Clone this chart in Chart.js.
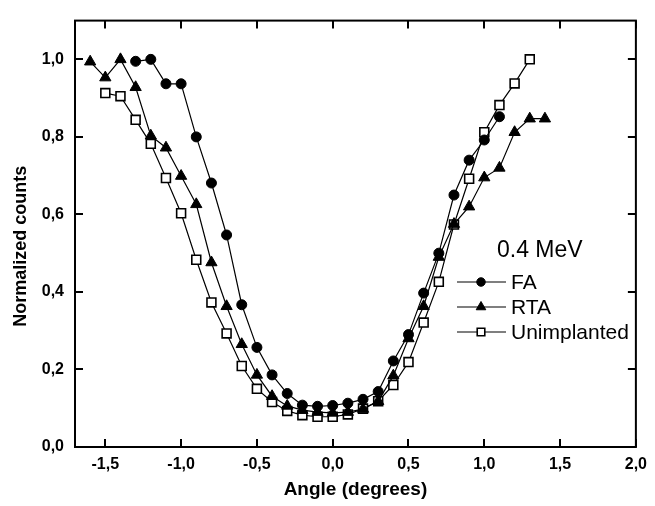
<!DOCTYPE html>
<html>
<head>
<meta charset="utf-8">
<script src="https://cdn.jsdelivr.net/npm/chart.js@4"></script>
<style>
  html, body { margin: 0; padding: 0; background: #fff; }
  #wrap { width: 655px; height: 506px; }
</style>
</head>
<body>
<div id="wrap"><canvas id="chart"></canvas></div>
<script>
// data
const faAngles = [-1.3, -1.2, -1.1, -1.0, -0.9, -0.8, -0.7, -0.6, -0.5, -0.4, -0.3, -0.2, -0.1,
  0.0, 0.1, 0.2, 0.3, 0.4, 0.5, 0.6, 0.7, 0.8, 0.9, 1.0, 1.1];
const faCounts = [0.995, 1.0, 0.937, 0.937, 0.80, 0.681, 0.547, 0.367, 0.257, 0.186, 0.138, 0.108, 0.105,
  0.107, 0.113, 0.123, 0.143, 0.222, 0.29, 0.397, 0.50, 0.65, 0.74, 0.792, 0.852];

const rtaAngles = [-1.6, -1.5, -1.4, -1.3, -1.2, -1.1, -1.0, -0.9, -0.8, -0.7, -0.6, -0.5, -0.4, -0.3, -0.2, -0.1,
  0.0, 0.1, 0.2, 0.3, 0.4, 0.5, 0.6, 0.7, 0.8, 0.9, 1.0, 1.1, 1.2, 1.3, 1.4];
const rtaCounts = [0.994, 0.953, 1.0, 0.928, 0.803, 0.772, 0.699, 0.626, 0.476, 0.363, 0.265, 0.186, 0.131, 0.106, 0.095, 0.09,
  0.088, 0.09, 0.098, 0.118, 0.184, 0.28, 0.363, 0.49, 0.575, 0.62, 0.695, 0.72, 0.812, 0.847, 0.847];

const unAngles = [-1.5, -1.4, -1.3, -1.2, -1.1, -1.0, -0.9, -0.8, -0.7, -0.6, -0.5, -0.4, -0.3, -0.2, -0.1,
  0.0, 0.1, 0.2, 0.3, 0.4, 0.5, 0.6, 0.7, 0.8, 0.9, 1.0, 1.1, 1.2, 1.3];
const unCounts = [0.913, 0.905, 0.844, 0.782, 0.694, 0.603, 0.483, 0.373, 0.293, 0.209, 0.150, 0.116, 0.093, 0.082, 0.078,
  0.078, 0.084, 0.099, 0.118, 0.16, 0.219, 0.321, 0.426, 0.574, 0.692, 0.812, 0.882, 0.938, 1.0];

const xTicks = [-1.5, -1.0, -0.5, 0.0, 0.5, 1.0, 1.5, 2.0];
const yTicks = [0.0, 0.2, 0.4, 0.6, 0.8, 1.0];
const legendTitle = "0.4 MeV";

const FONT = "'Liberation Sans', Arial, sans-serif";
const comma = v => v.toFixed(1).replace(".", ",");
const pairs = (xs, ys) => xs.map((x, i) => ({x: x, y: ys[i]}));

// frame + inward ticks on all four sides
const framePlugin = {
  id: "frame",
  afterDraw(chart) {
    const ctx = chart.ctx, a = chart.chartArea;
    const xs = chart.scales.x, ys = chart.scales.y;
    ctx.save();
    ctx.strokeStyle = "#000";
    ctx.lineWidth = 2;
    ctx.strokeRect(a.left, a.top, a.right - a.left, a.bottom - a.top);
    ctx.beginPath();
    xTicks.forEach(v => {
      const px = Math.round(xs.getPixelForValue(v));
      ctx.moveTo(px, a.bottom); ctx.lineTo(px, a.bottom - 8);
      ctx.moveTo(px, a.top); ctx.lineTo(px, a.top + 8);
    });
    yTicks.forEach(v => {
      const py = Math.round(ys.getPixelForValue(v));
      ctx.moveTo(a.left, py); ctx.lineTo(a.left + 8, py);
      ctx.moveTo(a.right, py); ctx.lineTo(a.right - 8, py);
    });
    ctx.stroke();
    ctx.restore();
  }
};

// legend inside the plot, with the energy as heading
const legendPlugin = {
  id: "innerLegend",
  afterDraw(chart) {
    const ctx = chart.ctx;
    ctx.save();
    ctx.fillStyle = "#000";
    ctx.font = "23px " + FONT;
    ctx.textBaseline = "middle";
    ctx.textAlign = "left";
    ctx.fillText(legendTitle, 497, 251);
    ctx.font = "21px " + FONT;
    chart.data.datasets.forEach((ds, i) => {
      const y = 282 + i * 25;
      ctx.strokeStyle = "#000";
      ctx.lineWidth = 1.2;
      ctx.beginPath();
      ctx.moveTo(457, y); ctx.lineTo(506, y);
      ctx.stroke();
      ctx.fillStyle = ds.pointBackgroundColor;
      ctx.lineWidth = ds.pointBorderWidth;
      Chart.helpers.drawPoint(ctx, {
        pointStyle: ds.pointStyle,
        radius: ds.pointRadius * 0.85,
        borderWidth: ds.pointBorderWidth,
        rotation: 0
      }, 481, y);
      ctx.fillStyle = "#000";
      ctx.fillText(ds.label, 511, y + 1);
    });
    ctx.restore();
  }
};

function series(label, data, style, radius, fill) {
  return {
    label: label,
    data: data,
    borderColor: "#000",
    borderWidth: 1.2,
    pointStyle: style,
    pointRadius: radius,
    pointHoverRadius: radius,
    pointBackgroundColor: fill,
    pointBorderColor: "#000",
    pointBorderWidth: style === "rect" ? 1.6 : 1,
    tension: 0,
    fill: false
  };
}

new Chart(document.getElementById("chart"), {
  type: "line",
  data: {
    datasets: [
      series("FA", pairs(faAngles, faCounts), "circle", 5, "#000"),
      series("RTA", pairs(rtaAngles, rtaCounts), "triangle", 6.5, "#000"),
      series("Unimplanted", pairs(unAngles, unCounts), "rect", 6.3, "#fff")
    ]
  },
  options: {
    responsive: true,
    maintainAspectRatio: false,
    animation: false,
    layout: { padding: { top: 12, right: 14, left: 0, bottom: 0 } },
    plugins: { legend: { display: false }, tooltip: { enabled: false } },
    scales: {
      x: {
        type: "linear",
        min: -1.7, max: 2.0,
        afterBuildTicks: s => { s.ticks = xTicks.map(v => ({value: v})); },
        afterFit: s => { s.height = 59; },
        grid: { display: false, drawTicks: false },
        border: { display: false },
        ticks: {
          padding: 8,
          color: "#000",
          font: { family: FONT, size: 16, weight: "bold" },
          callback: v => comma(v)
        },
        title: {
          display: true,
          text: "Angle (degrees)",
          color: "#000",
          font: { family: FONT, size: 19, weight: "bold" },
          padding: { top: 0, bottom: 5 }
        }
      },
      y: {
        min: 0, max: 1.1,
        afterBuildTicks: s => { s.ticks = yTicks.map(v => ({value: v})); },
        afterFit: s => { s.width = 75; },
        grid: { display: false, drawTicks: false },
        border: { display: false },
        ticks: {
          padding: 11,
          color: "#000",
          font: { family: FONT, size: 16, weight: "bold" },
          callback: v => comma(v)
        },
        title: {
          display: true,
          // trailing spaces push the label a little below the centre, as in the original
          text: "Normalized counts\u00a0\u00a0\u00a0\u00a0\u00a0",
          color: "#000",
          font: { family: FONT, size: 18, weight: "bold" },
          padding: { top: 10, bottom: 0 }
        }
      }
    }
  },
  plugins: [framePlugin, legendPlugin]
});
</script>
</body>
</html>
